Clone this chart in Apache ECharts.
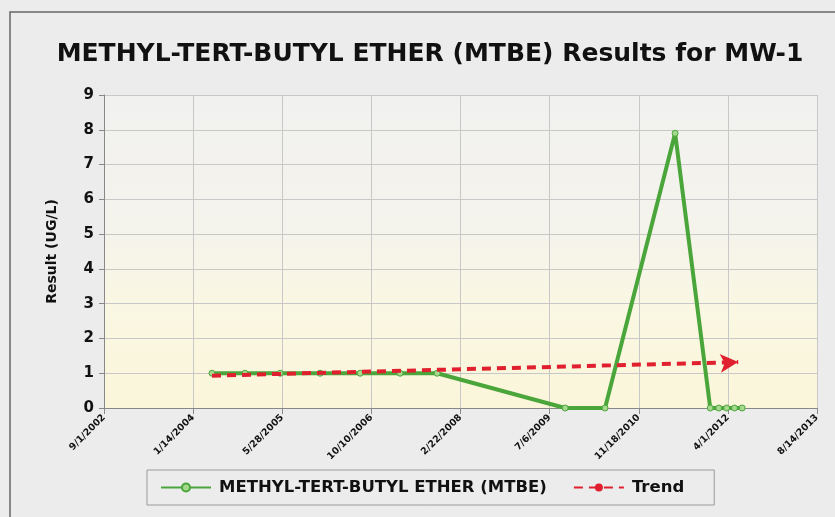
<!DOCTYPE html>
<html lang="en">
  <head>
    <meta charset="UTF-8" />
    <title>MTBE Results for MW-1</title>
    <script src="https://cdn.jsdelivr.net/npm/echarts@6/dist/echarts.min.js"></script>
    <style>
      html,
      body {
        width: 100%;
        height: 100%;
        margin: 0;
        padding: 0;
        background: #ececec;
      }
      #main {
        width: 835px;
        height: 517px;
      }
    </style>
  </head>
  <body>
    <div id="main"></div>
    <script type="text/javascript">
      // sample dates and results (ug/L)
      var sampleDates = [
        "2004-04-29", "2004-10-31", "2005-05-16", "2005-12-26", "2006-08-08",
        "2007-03-20", "2007-10-14", "2009-10-01", "2010-05-13", "2011-06-10",
        "2011-12-24", "2012-02-10", "2012-03-25", "2012-05-08", "2012-06-20"
      ];
      var mtbeValues = [1, 1, 1, 1, 1, 1, 1, 0, 0, 7.9, 0, 0, 0, 0, 0];
      // trend line, start and end
      var trendDates = ["2004-04-29", "2012-05-29"];
      var trendValues = [0.93, 1.32];
      // axis ticks in Excel date serials
      var xMin = 37500, xMax = 41500, xStep = 500;

      function toSerial(s) {
        var p = s.split("-");
        return Date.UTC(+p[0], +p[1] - 1, +p[2]) / 86400000 + 25569;
      }
      function serialLabel(v) {
        var d = new Date((v - 25569) * 86400000);
        return (d.getUTCMonth() + 1) + "/" + d.getUTCDate() + "/" + d.getUTCFullYear();
      }

      var mtbeData = sampleDates.map(function (d, i) { return [toSerial(d), mtbeValues[i]]; });
      var trendData = trendDates.map(function (d, i) { return [toSerial(d), trendValues[i]]; });
      trendData[0] = { value: trendData[0], symbol: "none" };
      trendData[1] = { value: trendData[1], symbol: "arrow", symbolSize: [14, 18], symbolRotate: -86 };

      var myChart = echarts.init(document.getElementById("main"));
      var option = {
        backgroundColor: "#ececec",
        textStyle: { fontFamily: "DejaVu Sans, sans-serif" },
        // outer frame of the scanned chart
        graphic: [
          {
            type: "rect",
            shape: { x: 10, y: 12, width: 840, height: 520 },
            style: { fill: "none", stroke: "#666", lineWidth: 1.5 },
            silent: true,
          },
        ],
        title: {
          text: "METHYL-TERT-BUTYL ETHER (MTBE) Results for MW-1",
          left: 425,
          textAlign: "center",
          top: 37,
          textStyle: { fontSize: 25, fontWeight: "bold", color: "#111" },
        },
        grid: {
          left: 104,
          right: 18,
          top: 95,
          bottom: 109,
          show: true,
          borderWidth: 0,
          backgroundColor: new echarts.graphic.LinearGradient(0, 0, 0, 1, [
            { offset: 0, color: "#f1f1f0" },
            { offset: 0.4, color: "#f4f3ec" },
            { offset: 0.7, color: "#faf7e2" },
            { offset: 1, color: "#fbf6da" },
          ]),
        },
        legend: {
          left: 147,
          top: 470,
          padding: [9, 30, 9, 13],
          borderColor: "#9a9a9a",
          borderWidth: 1,
          itemGap: 26,
          itemWidth: 50,
          itemHeight: 10,
          textStyle: { fontSize: 16.5, fontWeight: "bold", color: "#111", padding: [0, 0, 0, 3] },
          data: ["METHYL-TERT-BUTYL ETHER (MTBE)", "Trend"],
        },
        xAxis: {
          type: "value",
          min: xMin,
          max: xMax,
          interval: xStep,
          axisLine: { show: true, lineStyle: { color: "#888" } },
          axisTick: { show: true, length: 6, lineStyle: { color: "#888" } },
          splitLine: { show: true, lineStyle: { color: "#c8c8c8" } },
          axisLabel: {
            rotate: 45,
            fontSize: 9.5,
            fontWeight: "bold",
            color: "#111",
            margin: 8,
            formatter: serialLabel,
          },
        },
        yAxis: {
          type: "value",
          min: 0,
          max: 9,
          interval: 1,
          name: "Result (UG/L)",
          nameLocation: "middle",
          nameGap: 45,
          nameTextStyle: { fontSize: 14, fontWeight: "bold", color: "#111" },
          axisLine: { show: true, lineStyle: { color: "#888" } },
          axisTick: { show: true, length: 5, lineStyle: { color: "#888" } },
          splitLine: { show: true, lineStyle: { color: "#c8c8c8" } },
          axisLabel: { fontSize: 15, fontWeight: "bold", color: "#111", margin: 10 },
        },
        series: [
          {
            name: "METHYL-TERT-BUTYL ETHER (MTBE)",
            type: "line",
            data: mtbeData,
            symbol: "circle",
            symbolSize: 6,
            lineStyle: { color: "#4aa63a", width: 4 },
            itemStyle: { color: "#a6d98f", borderColor: "#4aa63a", borderWidth: 1 },
            z: 2,
          },
          {
            name: "Trend",
            type: "line",
            data: trendData,
            symbol: "none",
            lineStyle: { color: "#e0202e", width: 4, type: [9, 6] },
            itemStyle: { color: "#e0202e" },
            z: 3,
          },
        ],
      };
      myChart.setOption(option);
    </script>
  </body>
</html>
